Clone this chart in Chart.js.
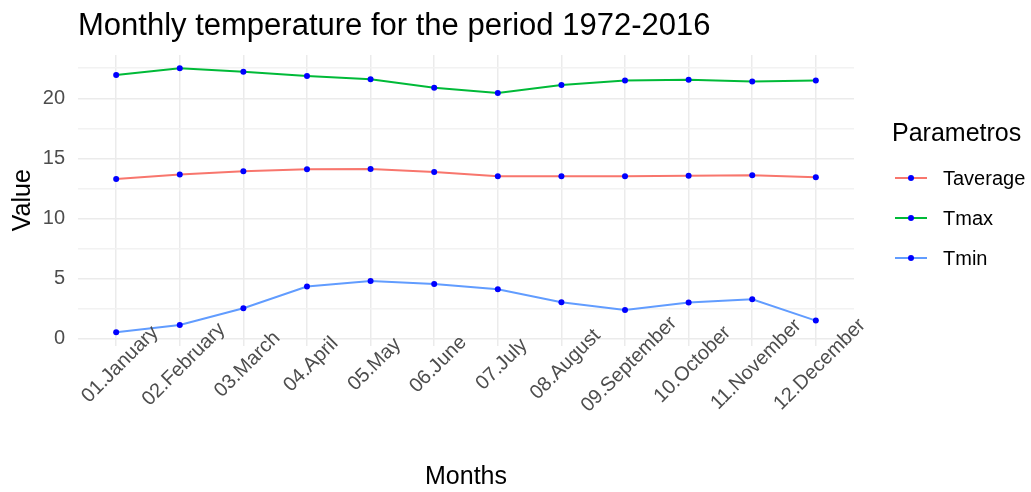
<!DOCTYPE html>
<html>
<head>
<meta charset="utf-8">
<script src="https://cdn.jsdelivr.net/npm/chart.js@4/dist/chart.umd.min.js"></script>
<style>
  body { margin: 0; background: #fff; }
  canvas { display: block; }
</style>
</head>
<body>
<canvas id="tempChart" width="1031" height="492"></canvas>
<script>
// data
const months = ['01.January', '02.February', '03.March', '04.April', '05.May', '06.June',
                '07.July', '08.August', '09.September', '10.October', '11.November', '12.December'];
const taverage = [13.29, 13.65, 13.92, 14.09, 14.12, 13.87, 13.51, 13.52, 13.52, 13.56, 13.59, 13.42];
const tmax = [21.94, 22.50, 22.20, 21.85, 21.58, 20.88, 20.44, 21.10, 21.47, 21.55, 21.39, 21.47];
const tmin = [0.53, 1.14, 2.53, 4.33, 4.80, 4.55, 4.11, 3.03, 2.39, 3.00, 3.28, 1.50];
const yTicks = [0, 2.5, 5, 7.5, 10, 12.5, 15, 17.5, 20, 22.5];

const FONT = 'Liberation Sans, Arial, sans-serif';

function toPoints(values) {
    return values.map((v, i) => ({ x: i, y: v }));
}

function makeDataset(label, values, color) {
    return {
        label: label,
        data: toPoints(values),
        borderColor: color,
        borderWidth: 2,
        tension: 0,
        pointRadius: 3,
        pointHoverRadius: 3,
        pointBackgroundColor: '#0000ff',
        pointBorderWidth: 0
    };
}

// title, rotated month labels and the legend, drawn ggplot-style
const ggExtras = {
    id: 'ggExtras',
    afterDraw(chart) {
        const ctx = chart.ctx;
        const xScale = chart.scales.x;
        const area = chart.chartArea;
        ctx.save();

        // title
        ctx.fillStyle = '#000';
        ctx.font = '31px ' + FONT;
        ctx.textAlign = 'left';
        ctx.textBaseline = 'alphabetic';
        ctx.fillText('Monthly temperature for the period 1972-2016', 78, 35);

        // month labels, centered on the tick and turned 45 degrees
        ctx.fillStyle = '#4d4d4d';
        ctx.font = '20px ' + FONT;
        ctx.textAlign = 'center';
        ctx.textBaseline = 'middle';
        months.forEach((m, i) => {
            const x = xScale.getPixelForValue(i);
            ctx.save();
            ctx.translate(x + 4, area.bottom + 19);
            ctx.rotate(-Math.PI / 4);
            ctx.fillText(m, 0, 0);
            ctx.restore();
        });

        // legend
        const lx = area.right + 38;
        ctx.fillStyle = '#000';
        ctx.font = '25px ' + FONT;
        ctx.textAlign = 'left';
        ctx.textBaseline = 'middle';
        ctx.fillText('Parametros', lx, 134);
        ctx.font = '20px ' + FONT;
        chart.data.datasets.forEach((ds, i) => {
            const y = 178 + i * 40;
            ctx.strokeStyle = ds.borderColor;
            ctx.lineWidth = 2;
            ctx.beginPath();
            ctx.moveTo(lx + 3, y);
            ctx.lineTo(lx + 35, y);
            ctx.stroke();
            ctx.fillStyle = ds.pointBackgroundColor;
            ctx.beginPath();
            ctx.arc(lx + 19, y, 3, 0, Math.PI * 2);
            ctx.fill();
            ctx.fillStyle = '#000';
            ctx.fillText(ds.label, lx + 51, y + 1);
        });
        ctx.restore();
    }
};

new Chart(document.getElementById('tempChart'), {
    type: 'line',
    data: {
        datasets: [
            makeDataset('Taverage', taverage, '#F8766D'),
            makeDataset('Tmax', tmax, '#00BA38'),
            makeDataset('Tmin', tmin, '#619CFF')
        ]
    },
    options: {
        responsive: false,
        animation: false,
        layout: { padding: { top: 55, right: 177, bottom: 0, left: 0 } },
        plugins: {
            legend: { display: false },
            tooltip: { enabled: false }
        },
        scales: {
            x: {
                type: 'linear',
                min: -0.6,
                max: 11.6,
                afterBuildTicks: scale => {
                    scale.ticks = months.map((m, i) => ({ value: i }));
                },
                afterFit: scale => { scale.height = 146.5; },
                ticks: { display: false },
                grid: { color: '#ebebeb', lineWidth: 1.5, drawTicks: false },
                border: { display: false },
                title: {
                    display: true,
                    text: 'Months',
                    color: '#000',
                    font: { family: FONT, size: 25 },
                    padding: { top: 0, bottom: 0 }
                }
            },
            y: {
                min: -0.57,
                max: 23.6,
                afterBuildTicks: scale => {
                    scale.ticks = yTicks.map(v => ({ value: v }));
                },
                afterFit: scale => { scale.width = 78; },
                ticks: {
                    color: '#4d4d4d',
                    font: { family: FONT, size: 20 },
                    padding: 13,
                    callback: v => (v % 5 === 0 ? String(v) : '')
                },
                grid: {
                    color: c => (c.tick && c.tick.value % 5 === 0 ? '#ebebeb' : '#f2f2f2'),
                    lineWidth: 1.5,
                    drawTicks: false
                },
                border: { display: false },
                title: {
                    display: true,
                    text: 'Value',
                    color: '#000',
                    font: { family: FONT, size: 25 },
                    padding: { top: 8, bottom: 0 }
                }
            }
        }
    },
    plugins: [ggExtras]
});
</script>
</body>
</html>
